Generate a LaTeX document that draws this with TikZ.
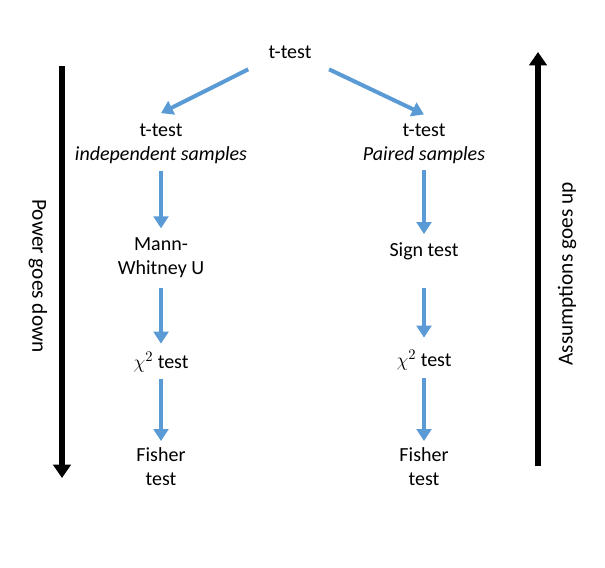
\documentclass[tikz,border=0pt]{standalone}
\usepackage{fontspec}
\setmainfont{Carlito}
\usepackage{amsmath}
\usetikzlibrary{positioning,arrows.meta}
\definecolor{flowblue}{RGB}{91,155,213}

\tikzset{
  testnode/.style={font=\fontsize{15}{18}\selectfont, align=center, inner sep=1pt},
  sidelabel/.style={font=\fontsize{16}{18}\selectfont, inner sep=1pt},
  flow/.style={draw=flowblue, line width=3pt, -{Triangle[length=9pt,width=11pt]}},
  trend/.style={draw=black, line width=4.5pt, -{Triangle[length=10pt,width=13pt]}}
}

\begin{document}
\begin{tikzpicture}[x=0.75pt, y=-0.75pt]
\useasboundingbox (0,0) rectangle (605,567);

\node[testnode] (ttest) at (290,52) {t-test};
\node[testnode] (indep) at (161,144) {t-test\\\textit{independent samples}};
\node[testnode] (paired) at (424,144) {t-test\\\textit{Paired samples}};
\node[testnode] (mann) at (161,258) {Mann-\\Whitney U};
\node[testnode] (sign) at (424,251) {Sign test};
\node[testnode] (chiL) at (161,362) {$\chi^2$ test};
\node[testnode] (chiR) at (424,360) {$\chi^2$ test};
\node[testnode] (fishL) at (161,467) {Fisher\\test};
\node[testnode] (fishR) at (424,467) {Fisher\\test};

\draw[flow] ([xshift=-14pt,yshift=-7pt]ttest.south west) -- ([yshift=7pt]indep.north);
\draw[flow] ([xshift=12pt,yshift=-7pt]ttest.south east) -- ([yshift=6pt]paired.north);
\draw
	(indep) edge[flow, shorten <=4pt, shorten >=6pt] (mann)
	(mann) edge[flow, shorten <=6pt, shorten >=5pt] (chiL)
	(chiL) edge[flow, shorten <=4pt, shorten >=4pt] (fishL)
	(paired) edge[flow, shorten <=3pt, shorten >=5pt] (sign)
	(sign) edge[flow, shorten <=20pt, shorten >=8pt] (chiR)
	(chiR) edge[flow, shorten <=5pt, shorten >=4pt] (fishR)
;

% power and assumptions
\coordinate (powTop) at (62,66);
\coordinate (powBot) at (62,478);
\coordinate (assBot) at (538,466);
\coordinate (assTop) at (538,52);
\draw[trend] (powTop) -- (powBot);
\draw[trend] (assBot) -- (assTop);
\node[sidelabel, rotate=-90] (power) at (38,276) {Power goes down};
\node[sidelabel, rotate=90] (assume) at (567,274) {Assumptions goes up};
\end{tikzpicture}
\end{document}
